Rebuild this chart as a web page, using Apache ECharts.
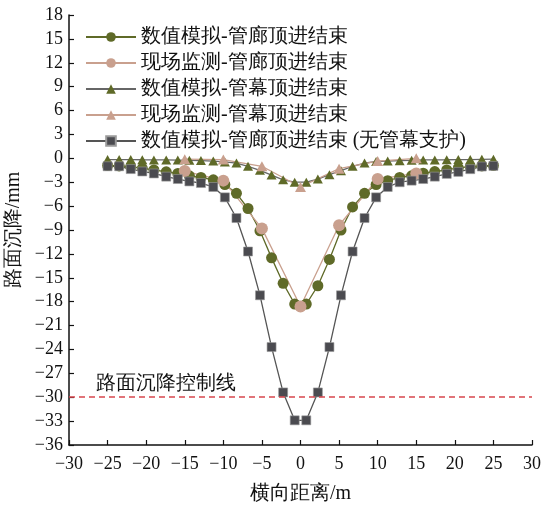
<!DOCTYPE html>
<html>
<head>
<meta charset="utf-8">
<script src="https://cdn.jsdelivr.net/npm/echarts@6/dist/echarts.min.js"></script>
<style>
    html, body { margin: 0; padding: 0; background: #ffffff; }
    #chart { width: 541px; height: 505px; }
</style>
</head>
<body>
<div id="chart"></div>
<script>
// 数值模拟测点位置 (m)
var simX = [-25, -23.5, -22, -20.5, -19, -17.4, -15.9, -14.4, -12.9, -11.3, -9.8, -8.3, -6.8, -5.25, -3.75, -2.25, -0.75,
            0.75, 2.25, 3.75, 5.25, 6.75, 8.3, 9.8, 11.3, 12.85, 14.4, 15.9, 17.4, 18.95, 20.45, 22, 23.5, 25];
// 数值模拟-管廊顶进结束
var simGallery = [-0.9, -0.95, -1.05, -1.25, -1.45, -1.7, -1.9, -2.2, -2.4, -2.7, -3.3, -4.4, -6.3, -9.1, -12.5, -15.7, -18.3,
                  -18.3, -16.0, -12.7, -9.0, -6.1, -4.4, -3.3, -2.8, -2.4, -2.2, -1.87, -1.66, -1.45, -1.2, -1.05, -0.95, -0.9];
// 数值模拟-管幕顶进结束
var simCurtain = [-0.15, -0.15, -0.15, -0.18, -0.2, -0.2, -0.22, -0.25, -0.28, -0.35, -0.45, -0.6, -1.0, -1.5, -2.1, -2.7, -3.0,
                  -3.0, -2.6, -2.05, -1.55, -1.0, -0.6, -0.4, -0.35, -0.3, -0.25, -0.2, -0.2, -0.18, -0.15, -0.15, -0.12, -0.1];
// 数值模拟-管廊顶进结束 (无管幕支护)
var simNoCurtain = [-1.0, -1.0, -1.35, -1.65, -1.9, -2.3, -2.6, -2.9, -3.1, -3.6, -4.9, -7.5, -11.7, -17.2, -23.7, -29.4, -32.9,
                    -32.9, -29.4, -23.7, -17.2, -11.7, -7.5, -4.9, -3.6, -3.0, -2.8, -2.6, -2.3, -1.95, -1.7, -1.36, -1.03, -0.95];

// 现场监测测点
var measX = [-15, -10, -5, 0, 5, 10, 15];
var measGallery = [-1.6, -2.8, -8.8, -18.6, -8.4, -2.6, -1.9];
var measCurtain = [-0.1, -0.15, -1.0, -3.6, -1.3, -0.35, 0.0];

var controlLine = -30;

var olive = '#5f6a28';
var pink = '#c9a08e';
var dark = '#4b4b50';
var fonts = 'Liberation Serif';

function pairs(xs, ys) {
    var out = [];
    for (var i = 0; i < xs.length; i++) {
        out.push([xs[i], ys[i]]);
    }
    return out;
}

function minusSign(v) {
    return String(v).replace('-', '\u2212');
}

var dom = document.getElementById('chart');
var myChart = echarts.init(dom);

var option = {
    animation: false,
    backgroundColor: '#ffffff',
    grid: { left: 69, right: 9, top: 15, bottom: 60, outerBoundsMode: 'none', containLabel: false },
    legend: {
        orient: 'vertical',
        left: 80,
        top: 22,
        itemWidth: 50,
        itemHeight: 12,
        itemGap: 6,
        textStyle: { fontFamily: fonts, fontSize: 20, color: '#111', lineHeight: 20 },
        data: ['数值模拟-管廊顶进结束', '现场监测-管廊顶进结束', '数值模拟-管幕顶进结束', '现场监测-管幕顶进结束', '数值模拟-管廊顶进结束 (无管幕支护)']
    },
    xAxis: {
        type: 'value',
        min: -30,
        max: 30,
        interval: 5,
        name: '横向距离/m',
        nameLocation: 'middle',
        nameGap: 39,
        nameTextStyle: { fontFamily: fonts, fontSize: 20, color: '#111' },
        axisLine: { onZero: false, lineStyle: { color: '#111', width: 1.5 } },
        axisTick: { inside: true, length: 5, lineStyle: { color: '#111', width: 1.2 } },
        axisLabel: { fontFamily: fonts, fontSize: 18, color: '#111', margin: 10, formatter: minusSign },
        splitLine: { show: false }
    },
    yAxis: {
        type: 'value',
        min: -36,
        max: 18,
        interval: 3,
        name: '路面沉降/mm',
        nameLocation: 'middle',
        nameGap: 40,
        nameTextStyle: { fontFamily: fonts, fontSize: 20, color: '#111' },
        axisLine: { show: true, onZero: false, lineStyle: { color: '#111', width: 1.5 } },
        axisTick: { show: true, inside: true, length: 5, lineStyle: { color: '#111', width: 1.2 } },
        axisLabel: { fontFamily: fonts, fontSize: 18, color: '#111', margin: 6, formatter: minusSign },
        splitLine: { show: false }
    },
    series: [
        {
            name: '数值模拟-管廊顶进结束',
            type: 'line',
            symbol: 'circle',
            symbolSize: 11,
            itemStyle: { color: olive },
            lineStyle: { color: olive, width: 1.3 },
            data: pairs(simX, simGallery)
        },
        {
            name: '现场监测-管廊顶进结束',
            type: 'line',
            symbol: 'circle',
            symbolSize: 12,
            itemStyle: { color: pink },
            lineStyle: { color: pink, width: 1.3 },
            data: pairs(measX, measGallery)
        },
        {
            name: '数值模拟-管幕顶进结束',
            type: 'line',
            symbol: 'triangle',
            symbolSize: [10, 9],
            itemStyle: { color: olive },
            lineStyle: { color: '#666', width: 1.3 },
            data: pairs(simX, simCurtain)
        },
        {
            name: '现场监测-管幕顶进结束',
            type: 'line',
            symbol: 'triangle',
            symbolSize: [11, 10],
            itemStyle: { color: pink },
            lineStyle: { color: pink, width: 1.3 },
            data: pairs(measX, measCurtain)
        },
        {
            name: '数值模拟-管廊顶进结束 (无管幕支护)',
            type: 'line',
            symbol: 'rect',
            symbolSize: 9,
            itemStyle: { color: dark, borderColor: '#9a9a9a', borderWidth: 0.6 },
            lineStyle: { color: '#555', width: 1.3 },
            data: pairs(simX, simNoCurtain),
            markLine: {
                silent: true,
                symbol: 'none',
                lineStyle: { color: '#d8474d', type: [6, 4], width: 1.5 },
                label: {
                    show: true,
                    position: 'insideStartTop',
                    distance: [27, 3],
                    formatter: '路面沉降控制线',
                    fontFamily: fonts,
                    fontSize: 20,
                    color: '#111'
                },
                data: [{ yAxis: controlLine }]
            }
        }
    ]
};

if (option && typeof option === "object") {
    myChart.setOption(option, true);
}
</script>
</body>
</html>
